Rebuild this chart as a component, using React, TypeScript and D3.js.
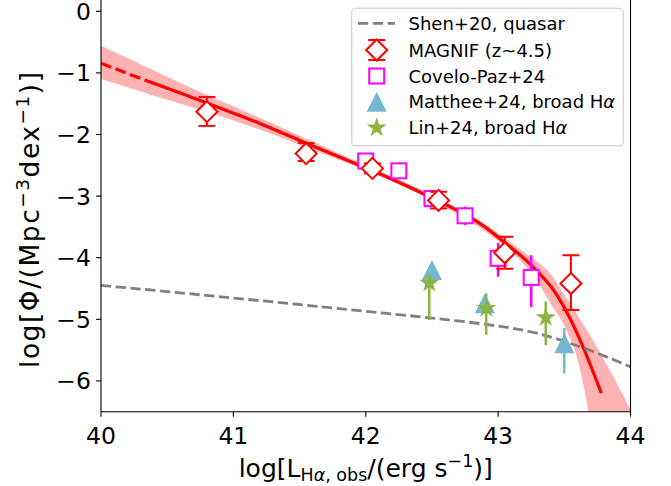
import React from 'react';
import * as d3 from 'd3';

// ---------- data ----------
const xTicks = [40, 41, 42, 43, 44];
const yTicks = [0, -1, -2, -3, -4, -5, -6];

// Shen+20 quasar LF (dashed gray)
const shenX = [40.0, 40.5, 41.0, 41.5, 42.0, 42.5, 43.0, 43.3, 43.65, 44.0];
const shenY = [-4.45, -4.55, -4.655, -4.76, -4.87, -4.98, -5.11, -5.23, -5.47, -5.77];

// best-fit curve (red), dashed below fitDashEnd
const fitX = [40.0, 40.33, 40.8, 41.2, 41.55, 41.95, 42.16, 42.55, 42.76, 42.9, 43.03, 43.13, 43.25, 43.41, 43.51, 43.63, 43.78];
const fitY = [-0.845, -1.115, -1.49, -1.82, -2.14, -2.5, -2.69, -3.08, -3.31, -3.5, -3.72, -3.89, -4.12, -4.5, -4.85, -5.39, -6.2];
const fitDashEnd = 40.33;

// confidence band
const bandX = [40.0, 40.4, 40.8, 41.2, 41.55, 42.0, 42.5, 43.0, 43.2, 43.3, 43.4, 43.5, 43.6, 43.7, 43.8, 43.9, 44.0];
const bandUpper = [-0.56, -0.96, -1.36, -1.73, -2.07, -2.5, -2.98, -3.6, -3.92, -4.07, -4.27, -4.6, -4.94, -5.28, -5.66, -6.05, -6.47];
const bandLower = [-1.1, -1.37, -1.63, -1.92, -2.21, -2.58, -3.07, -3.73, -4.12, -4.4, -4.76, -5.1, -5.65, -6.7, -8.0, -9.0, -10.0];

// MAGNIF (z~4.5)
const magnifX = [40.8, 41.55, 42.05, 42.55, 43.05, 43.55];
const magnifY = [-1.63, -2.31, -2.55, -3.07, -3.92, -4.42];
const magnifErrUp = [0.24, 0.17, 0.08, 0.14, 0.26, 0.46];
const magnifErrDn = [0.23, 0.12, 0.08, 0.13, 0.26, 0.43];

// Covelo-Paz+24
const coveloX = [42.0, 42.25, 42.5, 42.75, 43.0, 43.25];
const coveloY = [-2.43, -2.59, -3.04, -3.32, -4.01, -4.32];
const coveloErrUp = [0.03, 0.03, 0.05, 0.15, 0.25, 0.36];
const coveloErrDn = [0.03, 0.03, 0.05, 0.15, 0.3, 0.48];

// Matthee+24, broad Halpha
const mattheeX = [42.5, 42.9, 43.5];
const mattheeY = [-4.2, -4.74, -5.39];
const mattheeErrUp = [0.0, 0.0, 0.25];
const mattheeErrDn = [0.0, 0.0, 0.49];

// Lin+24, broad Halpha
const linX = [42.48, 42.91, 43.36];
const linY = [-4.41, -4.82, -4.97];
const linErrUp = [0.13, 0.24, 0.26];
const linErrDn = [0.6, 0.43, 0.45];

const legendLabels = ['Shen+20, quasar', 'MAGNIF (z~4.5)', 'Covelo-Paz+24', 'Matthee+24, broad Hα', 'Lin+24, broad Hα'];

// ---------- styles ----------
const FONT = 'DejaVu Sans';
const RED = '#ff0000';
const MAGENTA = '#ff00ff';
const BLUE = '#77b6d1';
const GREEN = '#8db440';
const GRAY = '#808080';

const diamondPath = 'M0,-10.5L10.5,0L0,10.5L-10.5,0Z';
const trianglePath = 'M0,-10L10,10L-10,10Z';
const starPath = d3.symbol(d3.symbolStar, 125)() as string;

function Label({ text, ...rest }: { text: string; [k: string]: any }) {
  const parts = text.split('α');
  return (
    <text {...rest}>
      {parts.map((p, i) => (
        <React.Fragment key={i}>
          {p}
          {i < parts.length - 1 && <tspan fontStyle="italic">α</tspan>}
        </React.Fragment>
      ))}
    </text>
  );
}

export default function App() {
  const W = 671, H = 486;
  const x = d3.scaleLinear().domain([40, 44]).range([101, 630.5]);
  const y = d3.scaleLinear().domain([-6.5, 0]).range([411.7, 11.3]);
  const top = y(0.5);
  const left = x(40), right = x(44), bottom = y(-6.5);

  const pts = fitX.map((v, i) => [v, fitY[i]] as [number, number]);
  const lineGen = d3.line<[number, number]>().x(d => x(d[0])).y(d => y(d[1])).curve(d3.curveCatmullRom.alpha(0.5));
  const solidPath = lineGen(pts.filter(p => p[0] >= fitDashEnd)) || '';
  const dashPath = lineGen(pts.filter(p => p[0] <= fitDashEnd)) || '';
  const shenPath = lineGen(shenX.map((v, i) => [v, shenY[i]] as [number, number])) || '';
  const bandPath = d3.area<number>()
    .x(d => x(d))
    .y0((d, i) => y(bandLower[i]))
    .y1((d, i) => y(bandUpper[i]))
    .curve(d3.curveMonotoneX)(bandX) || '';

  const legendRows = [23.3, 50, 76, 101.7, 127.7];
  const hx = 376.7;

  return (
    <svg width={W} height={H} style={{ position: 'absolute', left: 0, top: 0, background: '#fff' }} fontFamily={FONT}>
      <defs>
        <clipPath id="plot">
          <rect x={left} y={top} width={right - left} height={bottom - top} />
        </clipPath>
      </defs>
      <rect x={0} y={0} width={W} height={H} fill="#fff" />
      <g clipPath="url(#plot)">
        <path d={bandPath} fill={RED} fillOpacity={0.3} stroke="none" />
        <path d={dashPath} fill="none" stroke={RED} strokeWidth={3.2} strokeDasharray="11,4.5" />
        <path d={solidPath} fill="none" stroke={RED} strokeWidth={3.2} />
        <path d={shenPath} fill="none" stroke={GRAY} strokeWidth={2.8} strokeDasharray="10.3,4.5" />

        {/* Covelo-Paz squares */}
        {coveloX.map((v, i) => (
          <g key={'c' + i}>
            <line x1={x(v)} x2={x(v)} y1={y(coveloY[i] + coveloErrUp[i])} y2={y(coveloY[i] - coveloErrDn[i])} stroke={MAGENTA} strokeWidth={2.5} />
            <rect x={x(v) - 7.5} y={y(coveloY[i]) - 7.5} width={15} height={15} fill="#fff" stroke={MAGENTA} strokeWidth={2} />
          </g>
        ))}

        {/* MAGNIF diamonds */}
        {magnifX.map((v, i) => {
          const cx = x(v), yu = y(magnifY[i] + magnifErrUp[i]), yd = y(magnifY[i] - magnifErrDn[i]);
          return (
            <g key={'m' + i}>
              <line x1={cx} x2={cx} y1={yu} y2={yd} stroke={RED} strokeWidth={2} />
              <line x1={cx - 8.5} x2={cx + 8.5} y1={yu} y2={yu} stroke={RED} strokeWidth={2} />
              <line x1={cx - 8.5} x2={cx + 8.5} y1={yd} y2={yd} stroke={RED} strokeWidth={2} />
              <path d={diamondPath} transform={`translate(${cx},${y(magnifY[i])})`} fill="#fff" stroke={RED} strokeWidth={2} />
            </g>
          );
        })}

        {/* Matthee triangles */}
        {mattheeX.map((v, i) => (
          <g key={'t' + i}>
            {mattheeErrUp[i] + mattheeErrDn[i] > 0 && (
              <line x1={x(v)} x2={x(v)} y1={y(mattheeY[i] + mattheeErrUp[i])} y2={y(mattheeY[i] - mattheeErrDn[i])} stroke={BLUE} strokeWidth={2.5} />
            )}
            <path d={trianglePath} transform={`translate(${x(v)},${y(mattheeY[i])})`} fill={BLUE} />
          </g>
        ))}

        {/* Lin stars */}
        {linX.map((v, i) => (
          <g key={'s' + i}>
            <line x1={x(v)} x2={x(v)} y1={y(linY[i] + linErrUp[i])} y2={y(linY[i] - linErrDn[i])} stroke={GREEN} strokeWidth={2.5} />
            <path d={starPath} transform={`translate(${x(v)},${y(linY[i])})`} fill={GREEN} />
          </g>
        ))}
      </g>

      {/* spines */}
      <line x1={left} x2={left} y1={top} y2={bottom} stroke="#000" strokeWidth={1.1} />
      <line x1={right} x2={right} y1={top} y2={bottom} stroke="#000" strokeWidth={1.1} />
      <line x1={left} x2={right} y1={bottom} y2={bottom} stroke="#000" strokeWidth={1.1} />

      {/* x ticks */}
      {xTicks.map(t => (
        <g key={'xt' + t}>
          <line x1={x(t)} x2={x(t)} y1={bottom} y2={bottom + 5} stroke="#000" strokeWidth={1.1} />
          <text x={x(t)} y={443.7} fontSize={23.5} textAnchor="middle" fill="#000">{t}</text>
        </g>
      ))}
      {/* y ticks */}
      {yTicks.map(t => (
        <g key={'yt' + t}>
          <line x1={left - 5} x2={left} y1={y(t)} y2={y(t)} stroke="#000" strokeWidth={1.1} />
          <text x={91} y={y(t) + 8.4} fontSize={23.5} textAnchor="end" fill="#000">{t === 0 ? '0' : '\u2212' + Math.abs(t)}</text>
        </g>
      ))}

      {/* x label */}
      <text x={(left + right) / 2} y={477} fontSize={25} textAnchor="middle" fill="#000">
        log[L
        <tspan dy={4} fontSize={17.5}>H</tspan>
        <tspan fontSize={17.5} fontStyle="italic">α</tspan>
        <tspan fontSize={17.5}>, obs</tspan>
        <tspan dy={-4}>/(erg s</tspan>
        <tspan dy={-10} fontSize={17.5}>−1</tspan>
        <tspan dy={10}>)]</tspan>
      </text>

      {/* y label */}
      <text transform={`translate(39,220) rotate(-90)`} fontSize={26.5} textAnchor="middle" fill="#000" textLength={296} lengthAdjust="spacing">
        log[Φ/(Mpc
        <tspan dy={-10.5} fontSize={18.5}>−3</tspan>
        <tspan dy={10.5}>dex</tspan>
        <tspan dy={-10.5} fontSize={18.5}>−1</tspan>
        <tspan dy={10.5}>)]</tspan>
      </text>

      {/* legend */}
      <rect x={351.7} y={8.3} width={271.6} height={137.4} rx={4} ry={4} fill="#fff" fillOpacity={0.8} stroke="#cccccc" strokeWidth={1.1} />
      <line x1={358} x2={395} y1={legendRows[0]} y2={legendRows[0]} stroke={GRAY} strokeWidth={2.8} strokeDasharray="10.3,4.5" />
      <g>
        <line x1={hx} x2={hx} y1={legendRows[1] - 10} y2={legendRows[1] + 10} stroke={RED} strokeWidth={2} />
        <line x1={hx - 8.5} x2={hx + 8.5} y1={legendRows[1] - 10} y2={legendRows[1] - 10} stroke={RED} strokeWidth={2} />
        <line x1={hx - 8.5} x2={hx + 8.5} y1={legendRows[1] + 10} y2={legendRows[1] + 10} stroke={RED} strokeWidth={2} />
        <path d={diamondPath} transform={`translate(${hx},${legendRows[1]})`} fill="#fff" stroke={RED} strokeWidth={2} />
      </g>
      <rect x={hx - 7.5} y={legendRows[2] - 7.5} width={15} height={15} fill="#fff" stroke={MAGENTA} strokeWidth={2} />
      <path d={trianglePath} transform={`translate(${hx},${legendRows[3]})`} fill={BLUE} />
      <path d={starPath} transform={`translate(${hx},${legendRows[4]})`} fill={GREEN} />
      {legendLabels.map((l, i) => (
        <Label key={'l' + i} text={l} x={408.5} y={legendRows[i] + 6.6} fontSize={18} fill="#000" />
      ))}
    </svg>
  );
}
